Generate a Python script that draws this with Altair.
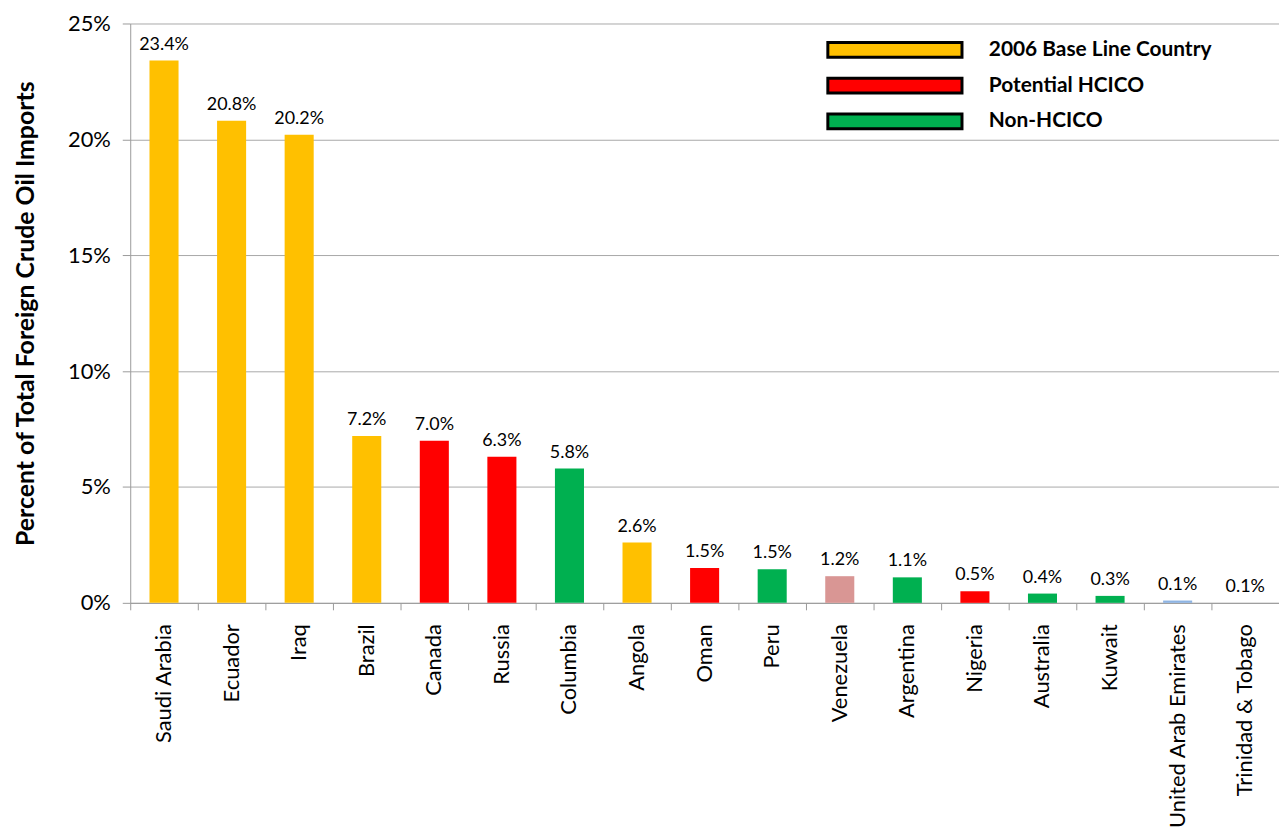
import altair as alt
import pandas as pd

countries = ["Saudi Arabia", "Ecuador", "Iraq", "Brazil", "Canada", "Russia", "Columbia",
             "Angola", "Oman", "Peru", "Venezuela", "Argentina", "Nigeria", "Australia",
             "Kuwait", "United Arab Emirates", "Trinidad & Tobago"]
values = [23.4, 20.8, 20.2, 7.2, 7.0, 6.3, 5.8, 2.6, 1.5, 1.45, 1.15, 1.1, 0.5, 0.4, 0.3, 0.1, 0.0]
labels = ["23.4%", "20.8%", "20.2%", "7.2%", "7.0%", "6.3%", "5.8%", "2.6%", "1.5%", "1.5%",
          "1.2%", "1.1%", "0.5%", "0.4%", "0.3%", "0.1%", "0.1%"]
groups = ["2006 Base Line Country", "2006 Base Line Country", "2006 Base Line Country",
          "2006 Base Line Country", "Potential HCICO", "Potential HCICO", "Non-HCICO",
          "2006 Base Line Country", "Potential HCICO", "Non-HCICO", "Other (Venezuela)",
          "Non-HCICO", "Potential HCICO", "Non-HCICO", "Non-HCICO", "Other (UAE)", "Other (UAE)"]

group_domain = ["2006 Base Line Country", "Potential HCICO", "Non-HCICO",
                "Other (Venezuela)", "Other (UAE)"]
group_colors = ["#FFC000", "#FF0000", "#00B050", "#D99694", "#8EB4E3"]
legend_values = ["2006 Base Line Country", "Potential HCICO", "Non-HCICO"]
y_ticks = [0, 5, 10, 15, 20, 25]

df = pd.DataFrame({"country": countries, "value": values, "label": labels, "group": groups})

FONT = "Lato"

x_enc = alt.X(
    "country:N", sort=countries, title=None,
    scale=alt.Scale(paddingInner=0, paddingOuter=0),
    axis=alt.Axis(labelAngle=-90, labelFontSize=22, labelColor="black", labelFont=FONT,
                  labelPadding=14, tickSize=7, bandPosition=0, grid=False,
                  domainColor="#9A9A9A", tickColor="#9A9A9A", labelLimit=400),
)
y_enc = alt.Y(
    "value:Q", title="Percent of Total Foreign Crude Oil Imports",
    scale=alt.Scale(domain=[0, 25], nice=False),
    axis=alt.Axis(values=y_ticks, labelExpr="datum.value + '%'", labelFontSize=22,
                  labelFont=FONT, labelColor="black", labelPadding=12, tickSize=8,
                  titleFont=FONT, titleFontSize=25, titleFontWeight="bold",
                  titleColor="black", titlePadding=29, gridColor="#A8A8A8",
                  domainColor="#9A9A9A", tickColor="#9A9A9A"),
)

bars = alt.Chart(df).mark_bar(width=alt.RelativeBandSize(0.43)).encode(
    x=x_enc,
    y=y_enc,
    color=alt.Color(
        "group:N",
        scale=alt.Scale(domain=group_domain, range=group_colors),
        legend=alt.Legend(
            title=None, values=legend_values, orient="none", legendX=751, legendY=8,
            symbolType="M-4,-0.44L4,-0.44L4,0.44L-4,0.44Z", symbolSize=1139,
            symbolStrokeColor="black", symbolStrokeWidth=3, labelFont=FONT,
            labelFontSize=21, labelFontWeight="bold", labelColor="black",
            labelOffset=76, rowPadding=4, labelLimit=400,
        ),
    ),
)

text = alt.Chart(df).mark_text(baseline="alphabetic", dy=-11, fontSize=18, font=FONT,
                               color="black").encode(
    x=alt.X("country:N", sort=countries),
    y="value:Q",
    text="label:N",
)

chart = (bars + text).properties(
    width=1156, height=583,
    padding={"left": 5, "top": 2, "right": 0, "bottom": 0},
).configure_view(stroke=None)

chart.save("out.html", embed_options={"renderer": "svg", "actions": False})
